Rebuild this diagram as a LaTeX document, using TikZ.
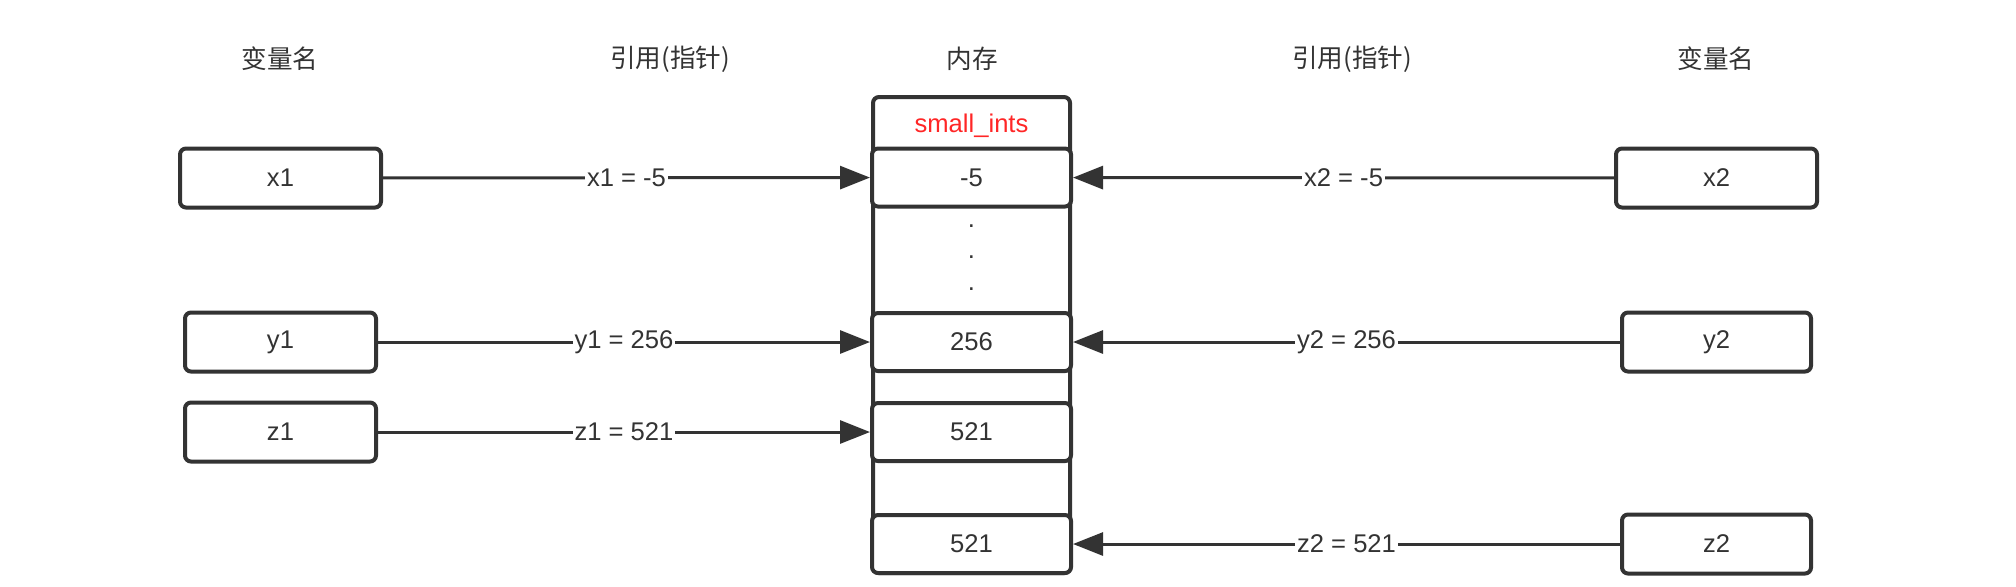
\documentclass[tikz,border=0pt]{standalone}
\usepackage{fontspec}
\setmainfont{Liberation Sans}
\newfontfamily\cjk{Noto Sans CJK SC}
\usetikzlibrary{arrows.meta}
\definecolor{ink}{RGB}{51,51,51}
\definecolor{hotred}{RGB}{255,38,38}

\begin{document}
\begin{tikzpicture}[x=0.5pt,y=-0.5pt,
  every node/.style={font=\fontsize{12.8}{15}\selectfont, text=ink},
  varbox/.style={draw=ink, line width=2pt, rounded corners=3pt, fill=white,
    minimum width=100.5pt, minimum height=29.5pt, inner sep=0pt},
  cell/.style={draw=ink, line width=2pt, rounded corners=3pt, fill=white,
    minimum width=99.5pt, minimum height=29pt, inner sep=0pt},
  ptr/.style={draw=ink, line width=1.5pt, -{Triangle[length=15pt,width=11.5pt]}},
  lbl/.style={fill=white, inner sep=1pt},
  hdr/.style={font=\cjk\fontsize{12.8}{15}\selectfont}]

\useasboundingbox (0,0) rectangle (2016,586);

% column headers
\node[hdr] (nameL) at (280,59) {变量名};
\node[hdr] (refL) at (670,59) {引用(指针)};
\node[hdr] (memtitle) at (972,59) {内存};
\node[hdr] (refR) at (1352,59) {引用(指针)};
\node[hdr] (nameR) at (1716,59) {变量名};

% memory column
\node[draw=ink, line width=2pt, rounded corners=3pt, minimum width=98.5pt, minimum height=238pt, inner sep=0pt] (mem) at (971.5,335) {};
\node[text=hotred] (small) at (971.5,126) {small\_ints};
\node[cell] (m5) at (971.5,177.5) {-5};
\foreach \yy in {222,253,285}
  \node[anchor=base, inner sep=0pt] (dot\yy) at (971.5,\yy+5.5) {.};
\node[cell] (m256) at (971.5,342) {256};
\node[cell] (m521a) at (971.5,432) {521};
\node[cell] (m521b) at (971.5,544) {521};

% variables, left side
\node[varbox] (x1) at (280.5,178) {x1};
\node[varbox, minimum width=95.5pt] (y1) at (280.5,342) {y1};
\node[varbox, minimum width=95.5pt] (z1) at (280.5,432) {z1};

% variables, right side
\node[varbox] (x2) at (1716.5,178) {x2};
\node[varbox, minimum width=94.5pt] (y2) at (1716.5,342) {y2};
\node[varbox, minimum width=94.5pt] (z2) at (1716.5,544) {z2};

% references
\draw[ptr] (x1) -- node[lbl] (rx1) {x1 = -5} (m5);
\draw[ptr] (y1) -- node[lbl] (ry1) {y1 = 256} (m256);
\draw[ptr] (z1) -- node[lbl] (rz1) {z1 = 521} (m521a);
\draw[ptr] (x2) -- node[lbl] (rx2) {x2 = -5} (m5);
\draw[ptr] (y2) -- node[lbl] (ry2) {y2 = 256} (m256);
\draw[ptr] (z2) -- node[lbl] (rz2) {z2 = 521} (m521b);

\end{tikzpicture}
\end{document}
